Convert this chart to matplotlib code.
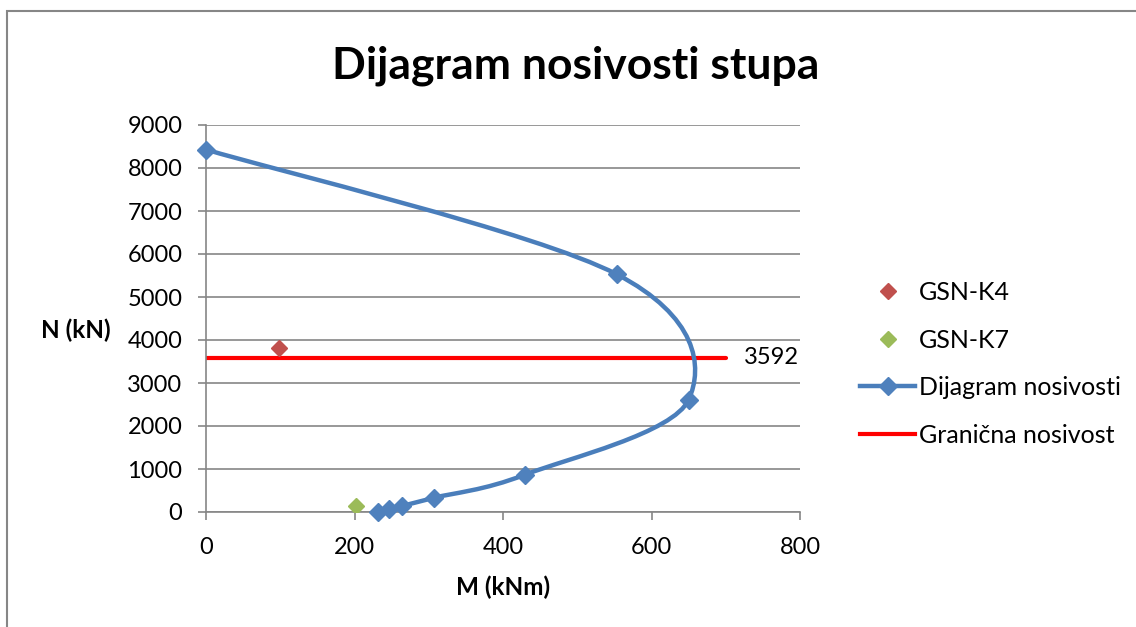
import matplotlib.pyplot as plt
from matplotlib.path import Path
from matplotlib.patches import PathPatch, Rectangle
from matplotlib.lines import Line2D

plt.rcParams['font.family'] = ['Lato', 'DejaVu Sans']

# podaci sa slike
M_diag = [0, 553, 650, 430, 307, 264, 246, 231]
N_diag = [8430, 5530, 2610, 870, 330, 140, 63, 0]
M_k4 = [98]
N_k4 = [3810]
M_k7 = [202]
N_k7 = [147]
M_gran = [0, 700]
N_gran = [3592, 3592]
x_ticks = [0, 200, 400, 600, 800]
y_ticks = [0, 1000, 2000, 3000, 4000, 5000, 6000, 7000, 8000, 9000]

blue = '#4A7EBB'
grey = '#868686'

fig = plt.figure(figsize=(11.36, 6.27), dpi=100)
ax = fig.add_axes([206 / 1136, 1 - 512 / 627, 594 / 1136, 387 / 627])

# okvir grafikona
fig.patches.append(Rectangle((7 / 1136, -0.1), 1.2, 1 - 11 / 627 + 0.1,
                             transform=fig.transFigure, fill=False,
                             edgecolor=grey, lw=1.5))

# glatka krivulja kao u Excelu (Bezier kroz tocke)
pts = list(zip(M_diag, N_diag))
verts = [pts[0]]
codes = [Path.MOVETO]
for i in range(len(pts) - 1):
    p0 = pts[i - 1] if i > 0 else pts[i]
    p1 = pts[i]
    p2 = pts[i + 1]
    p3 = pts[i + 2] if i + 2 < len(pts) else pts[i + 1]
    c1 = (p1[0] + (p2[0] - p0[0]) / 6, p1[1] + (p2[1] - p0[1]) / 6)
    c2 = (p2[0] - (p3[0] - p1[0]) / 6, p2[1] - (p3[1] - p1[1]) / 6)
    verts += [c1, c2, p2]
    codes += [Path.CURVE4] * 3
ax.add_patch(PathPatch(Path(verts, codes), fill=False, edgecolor=blue,
                       lw=3.2, capstyle='round', joinstyle='round', zorder=3))
ax.plot(M_diag, N_diag, linestyle='none', marker='D', ms=9,
        color='#4F81BD', zorder=4, clip_on=False)

ax.plot(M_gran, N_gran, color='#FF0000', lw=3, solid_capstyle='round', zorder=2)
ax.text(M_gran[1] + 24, N_gran[1], str(N_gran[1]), fontsize=17,
        va='center', ha='left')

ax.plot(M_k4, N_k4, linestyle='none', marker='D', ms=8.5, color='#C0504D', zorder=4)
ax.plot(M_k7, N_k7, linestyle='none', marker='D', ms=8.5, color='#9BBB59', zorder=4)

ax.set_xlim(0, 800)
ax.set_ylim(0, 9000)
ax.set_xticks(x_ticks)
ax.set_yticks(y_ticks)
ax.grid(axis='y', color=grey, lw=1.2)
ax.set_axisbelow(True)
for s in ['top', 'right']:
    ax.spines[s].set_visible(False)
for s in ['left', 'bottom']:
    ax.spines[s].set_color(grey)
    ax.spines[s].set_linewidth(1.2)
ax.tick_params(axis='both', colors=grey, labelcolor='black', labelsize=17,
               length=6, width=1.2)
ax.tick_params(axis='x', pad=12)
ax.tick_params(axis='y', pad=11)

ax.set_xlabel('M (kNm)', fontsize=17.5, fontweight='bold')
ax.xaxis.label.set_va('center')
ax.xaxis.set_label_coords(0.5, -(587 - 512) / 387)
ax.set_ylabel('N (kN)', fontsize=17.5, fontweight='bold', rotation=0)
ax.yaxis.label.set_va('center')
ax.yaxis.label.set_ha('center')
ax.yaxis.set_label_coords((76 - 206) / 594, (512 - 330) / 387)

fig.text(576 / 1136, 1 - 66 / 627, 'Dijagram nosivosti stupa', fontsize=32,
         fontweight='bold', ha='center', va='center')

handles = [
    Line2D([], [], linestyle='none', marker='D', ms=8.5, color='#C0504D'),
    Line2D([], [], linestyle='none', marker='D', ms=8.5, color='#9BBB59'),
    Line2D([], [], color=blue, lw=3.2, marker='D', ms=9, mfc='#4F81BD', mec='#4F81BD'),
    Line2D([], [], color='#FF0000', lw=3),
]
labels = ['GSN-K4', 'GSN-K7', 'Dijagram nosivosti', 'Granična nosivost']
fig.legend(handles, labels, loc='upper left', bbox_to_anchor=(860 / 1136, 1 - 281 / 627),
           frameon=False, fontsize=18, handlelength=2.2, handletextpad=0.15,
           labelspacing=0.98, borderpad=0, borderaxespad=0)

fig.savefig('out.png', dpi=100)
